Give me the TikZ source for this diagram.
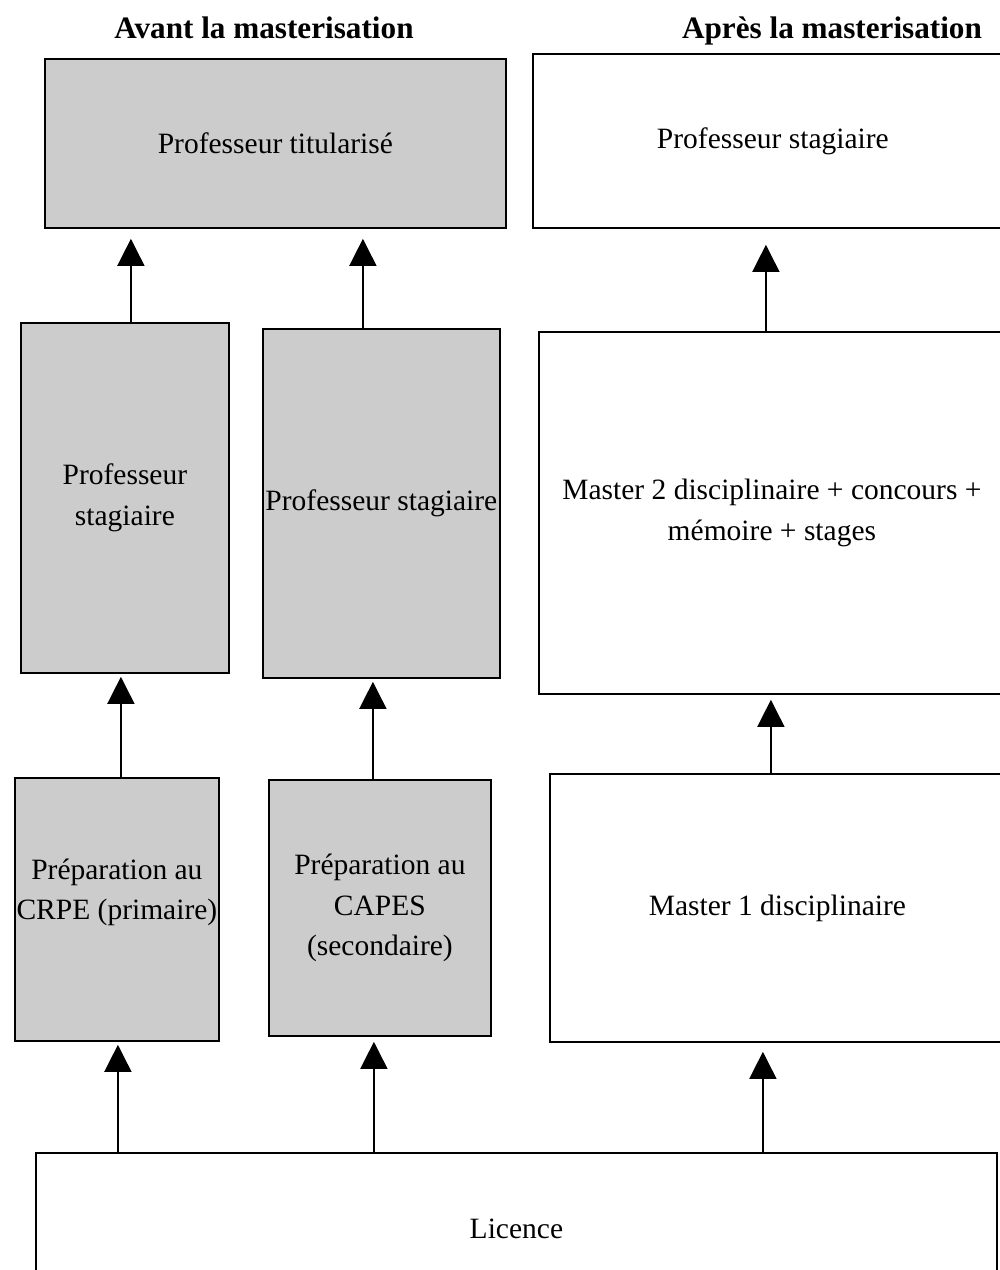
\documentclass[tikz,border=0pt]{standalone}
\usepackage{fontspec}
\setmainfont{Liberation Serif}
\usetikzlibrary{arrows.meta}
\definecolor{boxgrey}{RGB}{204,204,204}
\tikzset{
  box/.style={draw, line width=0.9pt, inner sep=0pt, align=center, anchor=north west},
  greybox/.style={box, fill=boxgrey},
  arr/.style={-{Triangle[length=13.5pt,width=13.5pt]}, line width=0.75pt},
  headline/.style={font=\fontsize{15.6}{20}\selectfont\bfseries, anchor=base},
}

\begin{document}
\begin{tikzpicture}[x=0.5pt,y=-0.5pt,font=\fontsize{14.75}{20.2}\selectfont]
\clip (0,0) rectangle (1000,1270);
\node[headline] (avant) at (264,38) {Avant la masterisation};
\node[headline] (apres) at (832,38) {Après la masterisation};
\node[greybox, minimum width=230.5pt, minimum height=84.5pt] (titul) at (44,58) {Professeur titularisé};
\node[box, minimum width=240pt, minimum height=87pt] (stagnew) at (532,53) {Professeur stagiaire};
\node[greybox, minimum width=104pt, minimum height=175pt] (stagprim) at (20,322) {Professeur\\stagiaire};
\node[greybox, minimum width=118.5pt, minimum height=174.5pt] (stagsec) at (262,328) {Professeur stagiaire};
\node[box, minimum width=233pt, minimum height=181pt] (mtwo) at (538,331) {Master 2 disciplinaire + concours +\\mémoire + stages};
\node[greybox, minimum width=102pt, minimum height=131.5pt,
  label={[yshift=8.5pt,align=center]center:Préparation au\\CRPE (primaire)}] (crpe) at (14,777) {};
\node[greybox, minimum width=111pt, minimum height=128pt] (capes) at (268,779) {Préparation au\\CAPES\\(secondaire)};
\node[box, minimum width=227.5pt, minimum height=134pt] (mone) at (549,773) {Master 1 disciplinaire};
\node[box, minimum width=480.5pt, minimum height=76pt] (licence) at (35,1152) {Licence};
\draw[arr, shorten >=5pt] ([xshift=3pt]stagprim.north) -- ([xshift=3pt]stagprim.north |- titul.south);
\draw[arr, shorten >=5pt] ([xshift=-9.25pt]stagsec.north) -- ([xshift=-9.25pt]stagsec.north |- titul.south);
\draw[arr, shorten >=8pt] ([xshift=-3pt]mtwo.north) -- ([xshift=-3pt]mtwo.north |- stagnew.south);
\draw[arr, shorten >=1.5pt] ([xshift=2pt]crpe.north) -- ([xshift=2pt]crpe.north |- stagprim.south);
\draw[arr, shorten >=1.5pt] ([xshift=-3.5pt]capes.north) -- ([xshift=-3.5pt]capes.north |- stagsec.south);
\draw[arr, shorten >=2.5pt] ([xshift=-3.25pt]mone.north) -- ([xshift=-3.25pt]mone.north |- mtwo.south);
\draw[arr, shorten >=1.5pt] ([xshift=0.5pt]crpe.south |- licence.north) -- ([xshift=0.5pt]crpe.south);
\draw[arr, shorten >=2.5pt] ([xshift=-3pt]capes.south |- licence.north) -- ([xshift=-3pt]capes.south);
\draw[arr, shorten >=4.5pt] ([xshift=-7.25pt]mone.south |- licence.north) -- ([xshift=-7.25pt]mone.south);
\end{tikzpicture}
\end{document}
